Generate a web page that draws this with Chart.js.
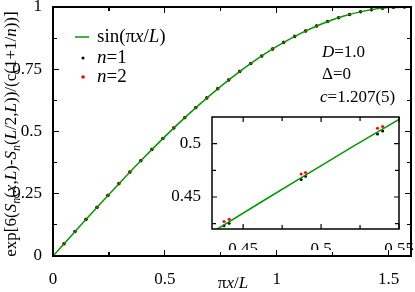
<!DOCTYPE html>
<html lang="en">
<head>
  <meta charset="UTF-8">
  <title>Entanglement entropy scaling</title>
  <style>
    html, body { margin: 0; padding: 0; background: #fff; }
    #wrap { position: relative; width: 415px; height: 292px; overflow: hidden; }
    #mainChart { position: absolute; left: 0; top: 0; }
    #insetChart { position: absolute; left: 165px; top: 112px; }
    .mark { position: absolute; background: #000; pointer-events: none; }
  </style>
  <script src="https://cdn.jsdelivr.net/npm/chart.js"></script>
</head>
<body>
  <div id="wrap">
    <canvas id="mainChart" width="415" height="292"></canvas>
    <canvas id="insetChart" width="250" height="138"></canvas>
  </div>

  <script>
    // curve sin(pi x / L)
    const curveX = [0, 0.1, 0.2, 0.3, 0.4, 0.5, 0.6, 0.7, 0.8, 0.9, 1.0, 1.1, 1.2, 1.3, 1.4, 1.5, 1.6];
    const curveY = [0, 0.0998, 0.1987, 0.2955, 0.3894, 0.4794, 0.5646, 0.6442, 0.7174, 0.7833,
                    0.8415, 0.8912, 0.9320, 0.9636, 0.9854, 0.9975, 0.9996];

    // data points (n=1 and n=2 coincide at this scale)
    const pointX = [0.0491, 0.0982, 0.1473, 0.1963, 0.2454, 0.2945, 0.3436, 0.3927, 0.4418, 0.4909,
                    0.5400, 0.5890, 0.6381, 0.6872, 0.7363, 0.7854, 0.8345, 0.8836, 0.9327, 0.9817,
                    1.0308, 1.0799, 1.1290, 1.1781, 1.2272, 1.2763, 1.3254, 1.3744, 1.4235, 1.4726,
                    1.5217, 1.5708];
    const n1Y = [0.0491, 0.0980, 0.1467, 0.1951, 0.2430, 0.2903, 0.3369, 0.3827, 0.4276, 0.4714,
                 0.5141, 0.5556, 0.5957, 0.6344, 0.6716, 0.7071, 0.7410, 0.7730, 0.8032, 0.8315,
                 0.8577, 0.8819, 0.9040, 0.9239, 0.9415, 0.9569, 0.9700, 0.9808, 0.9892, 0.9952,
                 0.9988, 1.0000];
    const n2Y = [0.0493, 0.0983, 0.1471, 0.1955, 0.2435, 0.2908, 0.3374, 0.3832, 0.4282, 0.4720,
                 0.5147, 0.5561, 0.5962, 0.6349, 0.6720, 0.7075, 0.7413, 0.7733, 0.8034, 0.8317,
                 0.8579, 0.8820, 0.9041, 0.9240, 0.9416, 0.9570, 0.9700, 0.9808, 0.9892, 0.9952,
                 0.9988, 1.0000];

    // inset (zoom around x = 0.43 .. 0.55)
    const insetLineX = [0.43, 0.46, 0.49, 0.52, 0.55];
    const insetLineY = [0.4169, 0.4439, 0.4706, 0.4969, 0.5227];
    const insetX  = [0.4377, 0.4410, 0.4872, 0.4900, 0.5362, 0.5395];
    const insetN1 = [0.4230, 0.4255, 0.4664, 0.4694, 0.5091, 0.5118];
    const insetN2 = [0.4270, 0.4291, 0.4715, 0.4730, 0.5145, 0.5161];

    // axes
    const xTicks = [0, 0.5, 1, 1.5];
    const xMinor = [0.25, 0.75, 1.25];
    const yTicks = [0, 0.25, 0.5, 0.75, 1];
    const yMinor = [0.125, 0.375, 0.625, 0.875];
    const insetXTicks = [0.45, 0.5, 0.55];
    const insetXMinor = [0.475, 0.525];
    const insetYTicks = [0.45, 0.5];
    const insetYMinor = [0.425, 0.475];

    const green = '#009a00';
    const serif = "'Liberation Serif', 'DejaVu Serif', serif";

    const pts = (xs, ys) => xs.map((x, i) => ({ x: x, y: ys[i] }));

    // mixed italic / subscript text
    function segWidth(ctx, s, size) {
      ctx.font = (s.it ? 'italic ' : '') + Math.round(s.sub ? size * 0.7 : size) + 'px ' + serif;
      return ctx.measureText(s.t).width;
    }
    function drawRich(ctx, segs, x, y, size, align) {
      let total = 0;
      segs.forEach(s => total += segWidth(ctx, s, size));
      let cx = align === 'center' ? x - total / 2 : x;
      ctx.textBaseline = 'middle';
      ctx.textAlign = 'left';
      segs.forEach(s => {
        const w = segWidth(ctx, s, size);
        ctx.fillText(s.t, cx, s.sub ? y + size * 0.3 : y);
        cx += w;
      });
    }

    // box with inward ticks on all four sides (inset, drawn on its canvas)
    function drawFrame(ctx, chart, xMaj, xMin, yMaj, yMin, majLen, minLen) {
      const a = chart.chartArea;
      const sx = chart.scales.x, sy = chart.scales.y;
      ctx.save();
      ctx.strokeStyle = '#000';
      ctx.lineWidth = 1.5;
      ctx.strokeRect(a.left, a.top, a.right - a.left, a.bottom - a.top);
      ctx.lineWidth = 1.2;
      ctx.beginPath();
      const xt = (v, len) => {
        const p = sx.getPixelForValue(v);
        ctx.moveTo(p, a.bottom); ctx.lineTo(p, a.bottom - len);
        ctx.moveTo(p, a.top); ctx.lineTo(p, a.top + len);
      };
      const yt = (v, len) => {
        const p = sy.getPixelForValue(v);
        ctx.moveTo(a.left, p); ctx.lineTo(a.left + len, p);
        ctx.moveTo(a.right, p); ctx.lineTo(a.right - len, p);
      };
      xMaj.forEach(v => xt(v, majLen)); xMin.forEach(v => xt(v, minLen));
      yMaj.forEach(v => yt(v, majLen)); yMin.forEach(v => yt(v, minLen));
      ctx.stroke();
      ctx.restore();
    }

    // same box for the main plot, laid over it as page elements placed from the chart's scales
    function frameMarks(chart, xMaj, xMin, yMaj, yMin, majLen, minLen) {
      const wrap = document.getElementById('wrap');
      const a = chart.chartArea;
      const sx = chart.scales.x, sy = chart.scales.y;
      const mark = (l, t, w, h) => {
        const d = document.createElement('div');
        d.className = 'mark';
        d.style.left = l + 'px'; d.style.top = t + 'px';
        d.style.width = w + 'px'; d.style.height = h + 'px';
        wrap.appendChild(d);
      };
      const lw = 1.5, tw = 1.2;
      mark(a.left - lw / 2, a.top - lw / 2, a.right - a.left + lw, lw);
      mark(a.left - lw / 2, a.bottom - lw / 2, a.right - a.left + lw, lw);
      mark(a.left - lw / 2, a.top - lw / 2, lw, a.bottom - a.top + lw);
      mark(a.right - lw / 2, a.top - lw / 2, lw, a.bottom - a.top + lw);
      const xt = (v, len) => {
        const p = sx.getPixelForValue(v);
        mark(p - tw / 2, a.bottom - len, tw, len);
        mark(p - tw / 2, a.top, tw, len);
      };
      const yt = (v, len) => {
        const p = sy.getPixelForValue(v);
        mark(a.left, p - tw / 2, len, tw);
        mark(a.right - len, p - tw / 2, len, tw);
      };
      xMaj.forEach(v => xt(v, majLen)); xMin.forEach(v => xt(v, minLen));
      yMaj.forEach(v => yt(v, majLen)); yMin.forEach(v => yt(v, minLen));
    }

    const mainDecor = {
      id: 'mainDecor',
      afterDraw(chart) {
        const ctx = chart.ctx;
        ctx.save();
        ctx.fillStyle = '#000';

        // legend
        ctx.strokeStyle = green;
        ctx.lineWidth = 1.5;
        ctx.beginPath(); ctx.moveTo(75, 37); ctx.lineTo(89, 37); ctx.stroke();
        drawRich(ctx, [{ t: 'sin(π' }, { t: 'x', it: 1 }, { t: '/' }, { t: 'L', it: 1 }, { t: ')' }], 97, 37, 19);
        ctx.beginPath(); ctx.arc(83, 58, 1.5, 0, Math.PI * 2); ctx.fill();
        drawRich(ctx, [{ t: 'n', it: 1 }, { t: '=1' }], 97, 58, 19);
        ctx.fillStyle = '#f00';
        ctx.beginPath(); ctx.arc(83, 77, 1.8, 0, Math.PI * 2); ctx.fill();
        ctx.fillStyle = '#000';
        drawRich(ctx, [{ t: 'n', it: 1 }, { t: '=2' }], 97, 77, 19);

        // parameters
        drawRich(ctx, [{ t: 'D', it: 1 }, { t: '=1.0' }], 322, 53, 17);
        drawRich(ctx, [{ t: 'Δ=0' }], 322, 75, 17);
        drawRich(ctx, [{ t: 'c', it: 1 }, { t: '=1.207(5)' }], 320, 98, 17);

        // x title
        drawRich(ctx, [{ t: 'π' }, { t: 'x', it: 1 }, { t: '/' }, { t: 'L', it: 1 }], 233, 284, 17, 'center');

        // y title
        ctx.translate(12, 134);
        ctx.rotate(-Math.PI / 2);
        drawRich(ctx, [
          { t: 'exp[6(' }, { t: 'S', it: 1 }, { t: 'n', it: 1, sub: 1 }, { t: '(' }, { t: 'x', it: 1 },
          { t: ',' }, { t: 'L', it: 1 }, { t: ')-' }, { t: 'S', it: 1 }, { t: 'n', it: 1, sub: 1 },
          { t: '(' }, { t: 'L', it: 1 }, { t: '/2,' }, { t: 'L', it: 1 }, { t: '))/(c(1+1/' },
          { t: 'n', it: 1 }, { t: '))]' }
        ], 0, 0, 16.5, 'center');
        ctx.restore();
      }
    };

    const insetDecor = {
      id: 'insetDecor',
      afterDraw(chart) {
        drawFrame(chart.ctx, chart, insetXTicks, insetXMinor, insetYTicks, insetYMinor, 5, 4);
      }
    };

    function fixScale(width, height) {
      return function (scale) {
        if (width !== null) scale.width = width;
        if (height !== null) scale.height = height;
        scale.paddingTop = 0; scale.paddingBottom = 0;
        scale.paddingLeft = 0; scale.paddingRight = 0;
      };
    }

    const tickFont = { family: serif, size: 17 };
    const frameBorder = { display: true, color: '#000', width: 1.5 };

    const mainChart = new Chart(document.getElementById('mainChart').getContext('2d'), {
      type: 'scatter',
      data: {
        datasets: [
          { type: 'line', data: pts(curveX, curveY), borderColor: green, borderWidth: 1.5,
            pointRadius: 0, cubicInterpolationMode: 'monotone', fill: false },
          { data: pts(pointX, n1Y), backgroundColor: '#000', borderWidth: 0, pointRadius: 1.5 },
          { data: pts(pointX, n2Y), backgroundColor: '#f00', borderWidth: 0, pointRadius: 1.8 }
        ]
      },
      options: {
        responsive: false,
        animation: false,
        events: [],
        layout: { padding: { top: 7, right: 2, left: 0, bottom: 0 } },
        plugins: { legend: { display: false }, tooltip: { enabled: false } },
        scales: {
          x: {
            type: 'linear', min: 0, max: 1.6,
            grid: { display: false }, border: frameBorder,
            afterBuildTicks: s => { s.ticks = xTicks.map(v => ({ value: v })); },
            afterFit: fixScale(null, 36),
            ticks: { font: tickFont, color: '#000', padding: 5, maxRotation: 0, callback: v => String(v) }
          },
          y: {
            type: 'linear', min: 0, max: 1,
            grid: { display: false }, border: frameBorder,
            afterBuildTicks: s => { s.ticks = yTicks.map(v => ({ value: v })); },
            afterFit: fixScale(53, null),
            ticks: { font: tickFont, color: '#000', padding: 3, callback: v => String(v) }
          }
        }
      },
      plugins: [mainDecor]
    });

    new Chart(document.getElementById('insetChart').getContext('2d'), {
      type: 'scatter',
      data: {
        datasets: [
          { type: 'line', data: pts(insetLineX, insetLineY), borderColor: green, borderWidth: 1.5,
            pointRadius: 0, fill: false },
          { data: pts(insetX, insetN1), backgroundColor: '#000', borderWidth: 0, pointRadius: 1.5 },
          { data: pts(insetX, insetN2), backgroundColor: '#f00', borderWidth: 0, pointRadius: 1.5 }
        ]
      },
      options: {
        responsive: false,
        animation: false,
        events: [],
        layout: { padding: { top: 5, right: 16, left: 0, bottom: 0 } },
        plugins: { legend: { display: false }, tooltip: { enabled: false } },
        scales: {
          x: {
            type: 'linear', min: 0.43, max: 0.55,
            grid: { display: false }, border: { display: false },
            afterBuildTicks: s => { s.ticks = insetXTicks.map(v => ({ value: v })); },
            afterFit: fixScale(null, 21),
            ticks: { font: tickFont, color: '#000', padding: 2, maxRotation: 0, callback: v => String(v) }
          },
          y: {
            type: 'linear', min: 0.42, max: 0.525,
            grid: { display: false }, border: { display: false },
            afterBuildTicks: s => { s.ticks = insetYTicks.map(v => ({ value: v })); },
            afterFit: fixScale(47, null),
            ticks: { font: tickFont, color: '#000', padding: 3, callback: v => String(v) }
          }
        }
      },
      plugins: [insetDecor]
    });

    frameMarks(mainChart, xTicks, xMinor, yTicks, yMinor, 6, 4);
  </script>
</body>
</html>
